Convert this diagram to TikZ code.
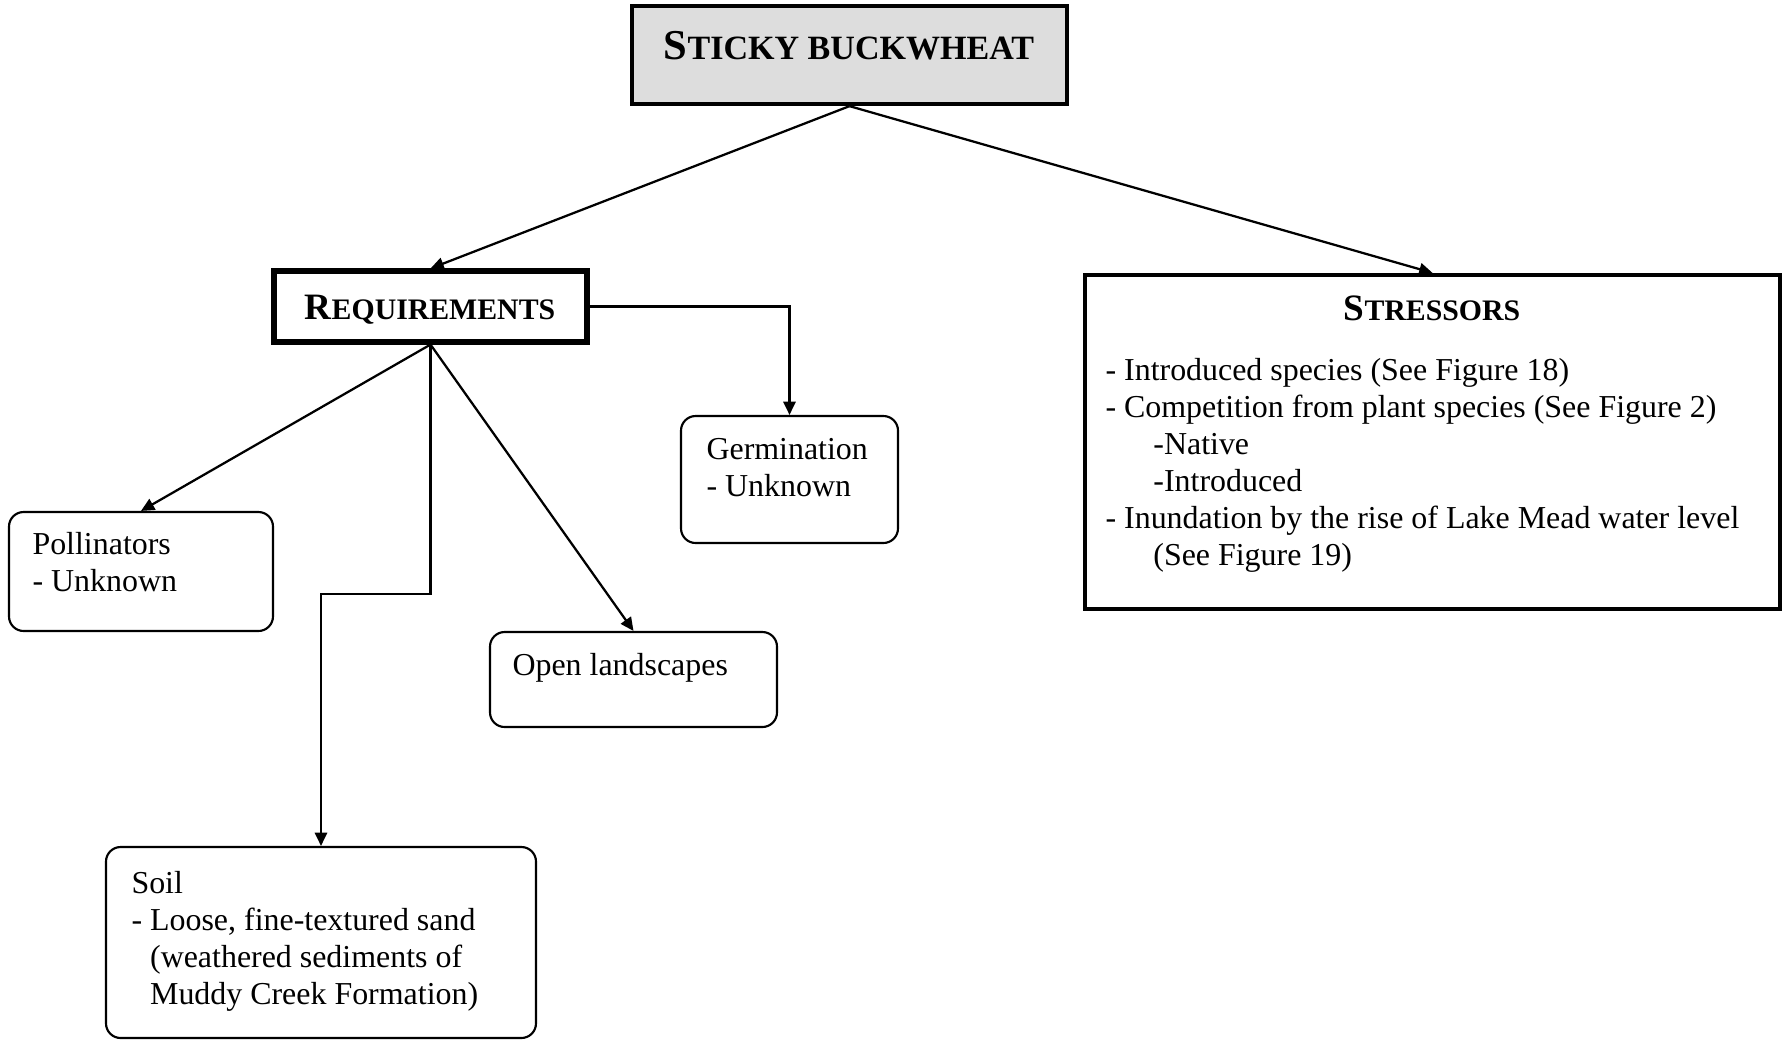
\documentclass[tikz,border=0pt]{standalone}
\usepackage{fontspec}
\setmainfont{Liberation Serif}
\usetikzlibrary{arrows.meta,fit}
% bold title with faked small capitals: first letter full size, rest reduced
\newcommand\smallcapsrest[2]{{\fontsize{#1}{#1}\selectfont #2}}
\begin{document}
\begin{tikzpicture}[x=0.3759pt,y=-0.3759pt,
  thinbox/.style={draw, line width=0.8pt, rounded corners=5.5pt, inner sep=0pt},
  heavybox/.style={draw, line width=1.6pt, inner sep=0pt},
  link/.style={line width=0.85pt, -{Triangle[length=5pt,width=4.6pt]}},
  body/.style={anchor=base west, inner sep=0pt, align=left,
    font=\fontsize{12}{13.9}\selectfont},
  title/.style={anchor=base, inner sep=0pt, font=\bfseries}]
\useasboundingbox (0,0) rectangle (1786,1040);

% boxes
\node[heavybox, fill=gray!27, fit={(632,6)(1067,104)}] (plant) {};
\node[heavybox, line width=1.9pt, fit={(274,271)(587,342)}] (req) {};
\node[heavybox, fit={(1085,275)(1780,609)}] (stress) {};
\node[thinbox, fit={(681,416)(898,543)}] (germ) {};
\node[thinbox, fit={(9,512)(273,631)}] (poll) {};
\node[thinbox, fit={(490,632)(777,727)}] (open) {};
\node[thinbox, fit={(106,847)(536,1038)}] (soil) {};

% titles
\node[title] (plantlbl) at (849,59)
  {\fontsize{16}{19}\selectfont S\smallcapsrest{12.8pt}{TICKY BUCKWHEAT}};
\node[title] (reqlbl) at (430,319)
  {\fontsize{14}{17}\selectfont R\smallcapsrest{11.2pt}{EQUIREMENTS}};
\node[title] (stresslbl) at (1432,320)
  {\fontsize{14}{17}\selectfont S\smallcapsrest{11.2pt}{TRESSORS}};

% box texts (multi-line nodes sit on the baseline of their last line)
\node[body] (stresstxt) at (1105,565)
  {- Introduced species (See Figure 18)\\
   - Competition from plant species (See Figure 2)\\
   \hspace*{18pt}-Native\\
   \hspace*{18pt}-Introduced\\
   - Inundation by the rise of Lake Mead water level\\
   \hspace*{18pt}(See Figure 19)};
\node[body] (germtxt) at (706,496) {Germination\\- Unknown};
\node[body] (polltxt) at (32,591) {Pollinators\\- Unknown};
\node[body] (opentxt) at (512,675) {Open landscapes};
\node[body] (soiltxt) at (131,1004)
  {Soil\\
   - Loose, fine-textured sand\\
   \phantom{- }(weathered sediments of\\
   \phantom{- }Muddy Creek Formation)};

% connectors
\draw[link] (plant.south) -- (req.north);
\draw[link] (plant.south) -- (stress.north);
\draw[link] (req.east) -| (germ.north);
\draw[link] (req.south) -- (poll.north);
\draw[link] (req.south) -- (open.north);
\draw[link] (req.south) -- (req.south |- 0,594) -| (soil.north);
\end{tikzpicture}
\end{document}
